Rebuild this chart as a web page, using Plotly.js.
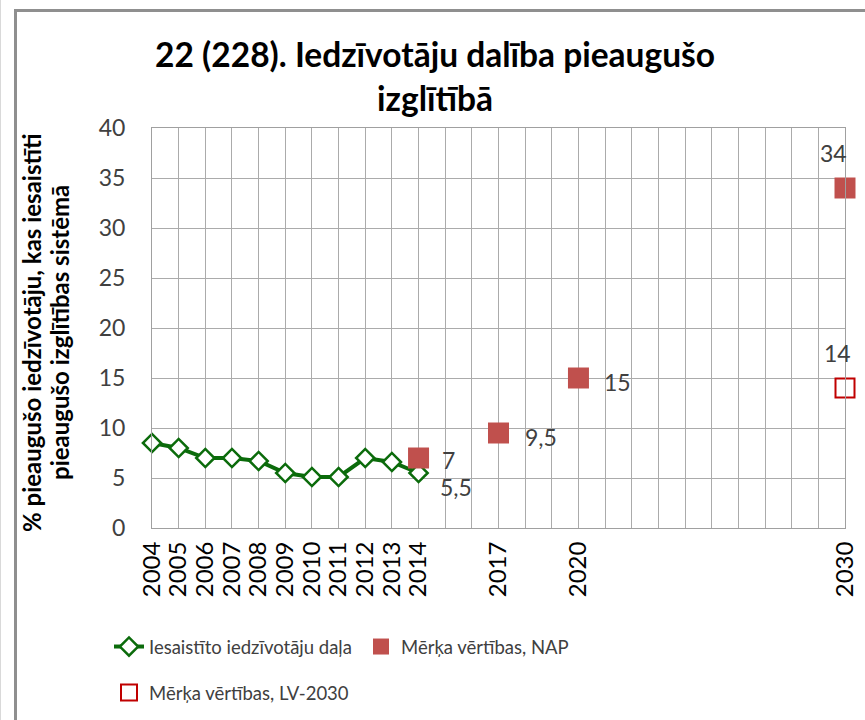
<!DOCTYPE html>
<html>
<head>
<meta charset="utf-8">
<script src="https://cdn.plot.ly/plotly-3.0.1.min.js"></script>
<style>
html,body{margin:0;padding:0;background:#fff;}
#wrap{position:relative;width:865px;height:720px;overflow:hidden;}
#chart{position:absolute;left:0;top:0;width:865px;height:720px;}
#frame{position:absolute;left:14px;top:9px;width:900px;height:800px;border-left:3px solid #8f8f8f;border-top:3px solid #8f8f8f;pointer-events:none;}
#edge{position:absolute;left:0;top:0;width:1px;height:720px;background:#d9d9d9;}
</style>
</head>
<body>
<div id="wrap"><div id="chart"></div><div id="frame"></div><div id="edge"></div></div>
<script>
// ---- data ----
const years = [2004, 2005, 2006, 2007, 2008, 2009, 2010, 2011, 2012, 2013, 2014];
const participation = [8.5, 8.0, 7.0, 7.0, 6.7, 5.5, 5.1, 5.1, 7.0, 6.6, 5.5];

const napYears = [2014, 2017, 2020, 2030];
const napValues = [7, 9.5, 15, 34];

const lvYears = [2030];
const lvValues = [14];

const axisYears = [];
for (let y = 2004; y <= 2030; y++) axisYears.push(y);
const labelledYears = [2004, 2005, 2006, 2007, 2008, 2009, 2010, 2011, 2012, 2013, 2014, 2017, 2020, 2030];
const axisTickText = axisYears.map(y => labelledYears.includes(y) ? String(y) : "");

const seriesNames = ["Iesaistīto iedzīvotāju daļa", "Mērķa vērtības, NAP", "Mērķa vērtības, LV-2030"];
const chartTitle = "22 (228). Iedzīvotāju dalība pieaugušo<br>izglītībā";
const yTitleLines = ["% pieaugušo iedzīvotāju, kas iesaistīti", "pieaugušo izglītības sistēmā"];

const FONT = "Lato, 'Open Sans', sans-serif";
const TXT = "#404040";
const fmt = v => String(v).replace(".", ",");

const traces = [
  {
    x: years, y: participation, name: seriesNames[0], type: "scatter", mode: "lines+markers",
    line: {color: "#0B6B0B", width: 4},
    marker: {symbol: "diamond", size: 14, color: "#ffffff", line: {color: "#0B6B0B", width: 2.5}},
    cliponaxis: false, legend: "legend"
  },
  {
    x: napYears, y: napValues, name: seriesNames[1], type: "scatter", mode: "markers",
    marker: {symbol: "square", size: 21, color: "#C0504D"},
    cliponaxis: false, legend: "legend2"
  },
  {
    x: lvYears, y: lvValues, name: seriesNames[2], type: "scatter", mode: "markers",
    marker: {symbol: "square-open", size: 19, color: "#C00000", line: {color: "#C00000", width: 2}},
    cliponaxis: false, legend: "legend3"
  }
];

// data labels (positions come from the data; only pixel offsets are styling)
const labelFont = {family: FONT, size: 23, color: TXT};
const annotations = [];
function addLabel(x, y, dx, dy) {
  annotations.push({x: x, y: y, xref: "x", yref: "y", text: fmt(y), showarrow: false,
    xshift: dx, yshift: dy, font: labelFont, xanchor: "center", yanchor: "middle"});
}
const lastIdx = years.length - 1;
addLabel(years[lastIdx], participation[lastIdx], 37, -14);
const napOffsets = [[30, -2], [42, -4], [39, -4], [-12, 35]];
napYears.forEach((yr, i) => addLabel(yr, napValues[i], napOffsets[i][0], napOffsets[i][1]));
lvYears.forEach((yr, i) => addLabel(yr, lvValues[i], -8, 35));

// y-axis title as two rotated lines
const yTitleX = [31, 59];
yTitleLines.forEach((t, i) => annotations.push({
  text: t, textangle: -90, showarrow: false, xref: "paper", x: 0, xanchor: "center",
  xshift: yTitleX[i] - 152, yref: "paper", y: 0.5, yshift: -5, yanchor: "middle",
  font: {family: FONT, size: 24, color: "#000000", weight: "bold"}
}));

const legendBase = {orientation: "h", xref: "container", yref: "container", xanchor: "left", yanchor: "top",
  font: {family: FONT, size: 18.5, color: TXT}, bgcolor: "rgba(0,0,0,0)"};

const layout = {
  width: 865, height: 720,
  paper_bgcolor: "#ffffff", plot_bgcolor: "#ffffff",
  font: {family: FONT, size: 18, color: TXT},
  margin: {l: 152, r: 20, t: 128, b: 192},
  title: {
    text: chartTitle, font: {family: FONT, size: 33.5, color: "#000000", weight: "bold"},
    xref: "container", x: 0.503, xanchor: "center",
    yref: "container", y: 1 - 67/720, yanchor: "top"
  },
  xaxis: {
    range: [2004, 2030], tickmode: "array", tickvals: axisYears, ticktext: axisTickText,
    tickangle: -90, tickfont: {family: FONT, size: 24, color: "#000000"},
    showgrid: true, gridcolor: "#ABABAB", gridwidth: 1,
    showline: true, linecolor: "#A0A0A0", linewidth: 1, mirror: true,
    ticks: "", ticklabelstandoff: 3, zeroline: false, fixedrange: true
  },
  yaxis: {
    range: [0, 40], tickmode: "linear", tick0: 0, dtick: 5,
    tickfont: {family: FONT, size: 23, color: TXT},
    showgrid: true, gridcolor: "#ABABAB", gridwidth: 1,
    showline: true, linecolor: "#A0A0A0", linewidth: 1, mirror: true,
    ticks: "", ticklabelstandoff: 21, zeroline: false,
    fixedrange: true
  },
  annotations: annotations,
  showlegend: true,
  legend: Object.assign({}, legendBase, {x: 109/865, y: 1 - 628/720}),
  legend2: Object.assign({}, legendBase, {x: 361/865, y: 1 - 628/720}),
  legend3: Object.assign({}, legendBase, {x: 109/865, y: 1 - 674/720})
};

Plotly.newPlot("chart", traces, layout, {displayModeBar: false, staticPlot: true});
</script>
</body>
</html>
